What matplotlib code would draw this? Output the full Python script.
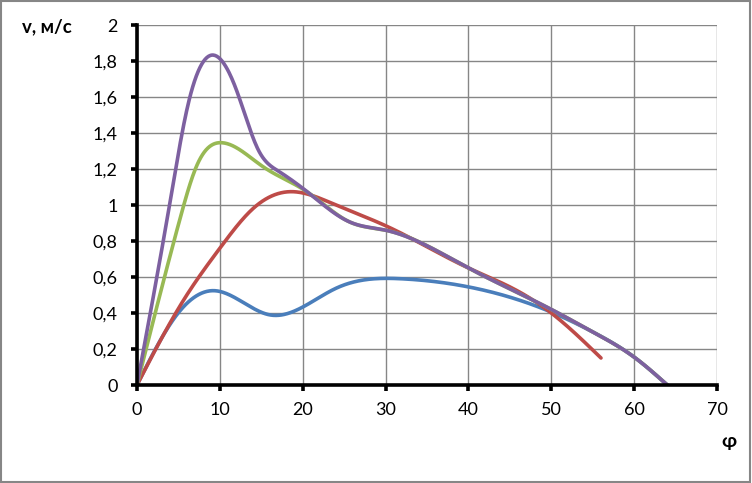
import matplotlib.pyplot as plt
import numpy as np

# values
phi_blue = [0, 4.8, 9.33, 16.1, 24, 32, 40, 50, 55, 60, 64]
v_blue = [0, 0.39, 0.524, 0.389, 0.537, 0.59, 0.545, 0.405, 0.295, 0.155, 0]

phi_red = [0, 5.6, 10, 14, 18.5, 24, 30, 40, 45, 50, 56]
v_red = [0, 0.47, 0.76, 0.98, 1.074, 1.0, 0.885, 0.65, 0.545, 0.40, 0.15]

phi_green = [0, 5.15, 7.16, 10.26, 15.2, 20.5, 25.7, 30, 40, 50, 55, 60, 64]
v_green = [0, 0.917, 1.213, 1.346, 1.213, 1.074, 0.905, 0.86, 0.65, 0.42, 0.295, 0.155, 0]

phi_purple = [0, 4, 6.1, 9.17, 12, 14.64, 17, 20.5, 25.7, 30, 40, 50, 55, 60, 64]
v_purple = [0, 1.02, 1.546, 1.833, 1.639, 1.306, 1.19, 1.075, 0.905, 0.86, 0.65, 0.42, 0.295, 0.155, 0]

x_ticks = [0, 10, 20, 30, 40, 50, 60, 70]
y_ticks = [0, 0.2, 0.4, 0.6, 0.8, 1, 1.2, 1.4, 1.6, 1.8, 2]
y_labels = ['0', '0,2', '0,4', '0,6', '0,8', '1', '1,2', '1,4', '1,6', '1,8', '2']


def smooth(xs, ys, n=600):
    # natural cubic spline through the points (stands in for excel's smoothing)
    x = np.asarray(xs, float)
    y = np.asarray(ys, float)
    k = len(x)
    h = np.diff(x)
    A = np.zeros((k, k))
    b = np.zeros(k)
    A[0, 0] = A[-1, -1] = 1
    for i in range(1, k - 1):
        A[i, i - 1] = h[i - 1]
        A[i, i] = 2 * (h[i - 1] + h[i])
        A[i, i + 1] = h[i]
        b[i] = 6 * ((y[i + 1] - y[i]) / h[i] - (y[i] - y[i - 1]) / h[i - 1])
    m = np.linalg.solve(A, b)
    xx = np.linspace(x[0], x[-1], n)
    j = np.clip(np.searchsorted(x, xx) - 1, 0, k - 2)
    t = xx - x[j]
    hj = h[j]
    yy = (m[j] * (x[j + 1] - xx) ** 3 / (6 * hj) + m[j + 1] * t ** 3 / (6 * hj)
          + (y[j] / hj - m[j] * hj / 6) * (x[j + 1] - xx)
          + (y[j + 1] / hj - m[j + 1] * hj / 6) * t)
    return xx, yy


plt.rcParams['font.family'] = ['Lato', 'DejaVu Sans']

fig = plt.figure(figsize=(7.52, 4.83), dpi=100)
ax = fig.add_axes([137 / 752, 1 - 385 / 483, 580 / 752, 360 / 483])

series = [
    (phi_blue, v_blue, '#4A7EBB'),
    (phi_red, v_red, '#BE4B48'),
    (phi_green, v_green, '#98B954'),
    (phi_purple, v_purple, '#7D60A0'),
]
for xs, ys, c in series:
    sx, sy = smooth(xs, ys)
    ax.plot(sx, sy, color=c, lw=2.6, solid_capstyle='round', zorder=3)

ax.set_xlim(0, 70)
ax.set_ylim(0, 2)
ax.set_xticks(x_ticks)
ax.set_yticks(y_ticks)
ax.set_yticklabels(y_labels)
ax.grid(True, color='#868686', lw=1)
ax.set_axisbelow(True)

for s in ['top', 'right']:
    ax.spines[s].set_visible(False)
for s in ['left', 'bottom']:
    ax.spines[s].set_linewidth(2.6)
    ax.spines[s].set_color('black')
    ax.spines[s].set_zorder(4)
ax.tick_params(axis='both', direction='out', length=4, width=2.6, labelsize=13,
               colors='black')
ax.tick_params(axis='x', pad=8)
ax.tick_params(axis='y', pad=10)

fig.text(22 / 752, 1 - 27 / 483, 'v, м/с', fontsize=13.5, fontweight='bold', va='center')
fig.text(729 / 752, 1 - 442 / 483, 'φ', fontsize=14, fontweight='bold', ha='center', va='center')

border = plt.Rectangle((0.001, 0.002), 0.997, 0.995, transform=fig.transFigure,
                       fill=False, edgecolor='#868686', lw=1.5)
fig.patches.append(border)

fig.savefig('out.png', dpi=100)
